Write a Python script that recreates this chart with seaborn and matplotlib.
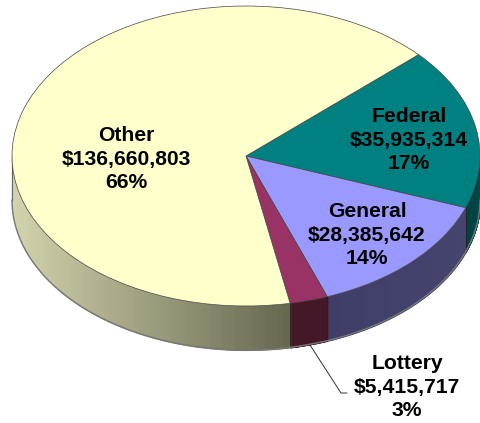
import numpy as np
import seaborn as sns
import matplotlib.pyplot as plt

# budget sources
names = ['Federal', 'General', 'Lottery', 'Other']
values = [35935314, 28385642, 5415717, 136660803]
top_colors = ['#008080', '#9999FF', '#993366', '#FFFFCC']
side_colors = [('#004040', '#004848'), ('#3E3E68', '#44446E'), ('#451828', '#451828'), ('#D2D2AC', '#66664F')]

sns.set_theme(style='white')
plt.rcParams['font.family'] = ['Liberation Sans', 'DejaVu Sans']

W, H = 480, 423
cx, cy, rx, ry = 246, 156, 234, 150
depth = 44 / ry
start = 42.5

fig = plt.figure(figsize=(W / 100, H / 100), dpi=100)
ax = fig.add_axes([0, 0, 1, 1])

# top of the disc
wedges, _ = ax.pie(values, colors=top_colors, startangle=start, counterclock=False, radius=1,
                   wedgeprops={'edgecolor': '#444444', 'linewidth': 0.5})
for w in wedges:
    w.set_zorder(3)
ax.set_aspect('auto')
ax.set_xlim(-cx / rx, (W - cx) / rx)
ax.set_ylim(-(H - cy) / ry, cy / ry)
ax.axis('off')

# side of the disc, only the part facing the viewer
total = sum(values)
a = start
for v, (c0, c1) in zip(values, side_colors):
    b = a - 360 * v / total
    a0, b0 = a % 360, b % 360
    if b0 > a0 or b0 == 0:
        a0 += 360
    lo, hi = max(b0, 180), min(a0, 360)
    if hi > lo:
        th = np.radians(np.linspace(lo, hi, 160))
        xs, ys = np.cos(th), np.sin(th)
        pal = sns.blend_palette([c0, c1], 64)
        for i in range(len(th) - 1):
            mid = (xs[i] + xs[i + 1]) / 2
            # shade follows x across the visible range of this slice
            t = (mid - xs[0]) / (xs[-1] - xs[0])
            col = pal[int(np.clip(t, 0, 1) * 63)]
            ax.fill_between(xs[i:i + 2], ys[i:i + 2] - depth, ys[i:i + 2], color=col, lw=0.8,
                            antialiased=False, zorder=1)
        for t in (lo, hi):
            if t not in (180, 360):
                r = np.radians(t)
                ax.plot([np.cos(r)] * 2, [np.sin(r) - depth, np.sin(r)], color='#222222', lw=0.5, zorder=2)
    a = b

# grey fringe along the bottom edge
th = np.radians(np.linspace(180, 360, 200))
ax.plot(np.cos(th), np.sin(th) - depth, color='#777777', lw=1.0, zorder=2)
ax.plot([-1, -1], [0, -depth], color='#666666', lw=0.8, zorder=2)

# leader line for Lottery
px_x = [310, 341, 347]
px_y = [345, 393, 393]
ax.plot([(x - cx) / rx for x in px_x], [(cy - y) / ry for y in px_y], color='#333333', lw=0.7, zorder=4)

# labels
label_pos = {'Federal': (409, 140), 'General': (367, 235), 'Lottery': (407, 387), 'Other': (126, 159)}
for n, v in zip(names, values):
    x, y = label_pos[n]
    fig.text(x / W, 1 - y / H, f'{n}\n${v:,}\n{100 * v / total:.0f}%', ha='center', va='center',
             fontsize=15.2, fontweight='bold', color='black', linespacing=1.3)

fig.savefig('out.png', dpi=100)
